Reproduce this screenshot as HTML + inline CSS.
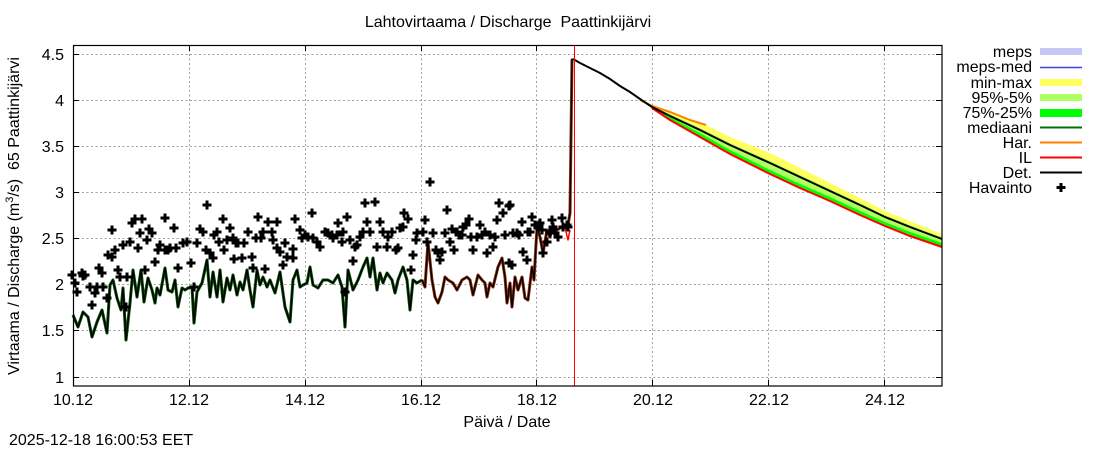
<!DOCTYPE html>
<html><head><meta charset="utf-8"><style>
html,body{margin:0;padding:0;background:#fff;}
svg{display:block;}
text{font-family:"Liberation Sans",Arial,sans-serif;font-size:16px;fill:#000;white-space:pre;}
</style></head><body>
<svg width="1100" height="450" viewBox="0 0 1100 450" xmlns="http://www.w3.org/2000/svg">
<rect width="1100" height="450" fill="#fff"/>
<text x="508" y="27" text-anchor="middle">Lahtovirtaama / Discharge &#160;Paattinkijärvi</text>
<!-- grid -->
<g stroke="#a0a0a0" stroke-width="1" stroke-dasharray="2,2.5" fill="none">
<path d="M73,54.5H942M73,100.5H942M73,146.5H942M73,192.5H942M73,238.5H942M73,284.5H942M73,330.5H942M73,377.5H942"/>
<path d="M189.5,45V386M305.5,45V386M421.5,45V386M536.5,45V386M652.5,45V386M768.5,45V386M884.5,45V386"/>
</g>
<!-- ticks -->
<g stroke="#000" stroke-width="1">
<path d="M73,54.5h6M73,100.5h6M73,146.5h6M73,192.5h6M73,238.5h6M73,284.5h6M73,330.5h6M73,377.5h6"/>
<path d="M942,54.5h-6M942,100.5h-6M942,146.5h-6M942,192.5h-6M942,238.5h-6M942,284.5h-6M942,330.5h-6M942,377.5h-6"/>
<path d="M189.5,386v-6M305.5,386v-6M421.5,386v-6M536.5,386v-6M652.5,386v-6M768.5,386v-6M884.5,386v-6"/>
<path d="M189.5,45v6M305.5,45v6M421.5,45v6M536.5,45v6M652.5,45v6M768.5,45v6M884.5,45v6"/>
</g>
<!-- forecast bands -->
<polygon fill="#ffff60" points="645,103 652,106 670,112 690,120 706,125 730,137 770,153 800,168 830,183 860,198 885,211 910,221 942,234 942,247 910,236 885,226 860,215 830,201 800,188 770,174 730,154 700,137 670,120 652,108"/>
<polygon fill="#b0ff60" points="652,106 670,114 700,128 730,143 770,161 800,175 830,189 860,203 885,215 910,225 942,237 942,246 910,235 885,225 860,214 830,200 800,187 770,173 730,153 700,136 670,119 652,108"/>
<polygon fill="#00ff00" points="652,107 670,117 700,133 730,150 770,170 800,184 830,197 860,211 885,222 910,232 942,243 942,246 910,235 885,225 860,214 830,200 800,187 770,173 730,153 700,136 670,119 652,108"/>
<polyline fill="none" stroke="#ff8000" stroke-width="2" points="640,100 652,106 670,112 690,120 706,125"/>
<polyline fill="none" stroke="#ff0000" stroke-width="2" points="652,108 670,120 700,137 730,154 770,174 800,188 830,201 860,215 885,226 910,236 942,247"/>
<polyline fill="none" stroke="#000" stroke-width="2" points="573,59 580,63 590,68 600,73 610,79 620,86 630,92 640,99 652,107 670,116 700,130 730,145 770,163 800,177 830,191 860,205 885,217 910,227 942,239"/>
<!-- historical line -->
<g fill="none" stroke-linejoin="round">
<polyline stroke="#0a4a0a" stroke-width="3" points="73,315 78,327 83,312 88,317 92,337 97,322 102,310 107,333 110,285 113,280 117,298 121,310 123,288 126,340 130,303 133,270 137,297 141,270 144,302 148,278 152,290 155,303 157,288 160,295 165,268 168,290 172,292 175,280 178,307 182,288 185,290 188,288 192,287 194,323 197,292 202,283 207,260 210,297 213,272 217,297 220,270 223,302 227,278 230,290 233,275 237,295 240,282 243,290 247,270 250,290 253,307 257,270 260,285 263,277 267,287 270,280 275,293 280,272 285,307 290,322 293,280 297,270 300,287 303,285 307,283 310,267 313,285 318,288 323,280 328,280 333,283 338,275 342,287 345,327 348,270 353,290 358,280 363,267 367,258 370,277 373,258 377,290 380,273 383,283 387,273 392,280 395,293 398,280 403,267 407,280 410,310 413,280 417,283 422,280"/>
<polyline stroke="#8a2a10" stroke-width="3" points="422,280 425,287 428,242 432,280 435,297 438,303 442,292 445,277 448,280 453,283 457,290 462,280 467,277 470,280 473,295 478,275 482,280 485,283 487,297 490,283 493,287 498,267 502,258 505,277 507,303 510,283 512,307 515,277 518,290 522,277 525,298 528,300 532,267 534,280 537,227 540,237 543,253 547,230 550,237 553,225 557,230 562,227 565,225 568,225 570,213 572,60 573,59"/>
<polyline stroke="#ff0000" stroke-width="1.5" points="565,228 568,240 570,230"/>
<polyline stroke="#000" stroke-width="1.3" points="73,315 78,327 83,312 88,317 92,337 97,322 102,310 107,333 110,285 113,280 117,298 121,310 123,288 126,340 130,303 133,270 137,297 141,270 144,302 148,278 152,290 155,303 157,288 160,295 165,268 168,290 172,292 175,280 178,307 182,288 185,290 188,288 192,287 194,323 197,292 202,283 207,260 210,297 213,272 217,297 220,270 223,302 227,278 230,290 233,275 237,295 240,282 243,290 247,270 250,290 253,307 257,270 260,285 263,277 267,287 270,280 275,293 280,272 285,307 290,322 293,280 297,270 300,287 303,285 307,283 310,267 313,285 318,288 323,280 328,280 333,283 338,275 342,287 345,327 348,270 353,290 358,280 363,267 367,258 370,277 373,258 377,290 380,273 383,283 387,273 392,280 395,293 398,280 403,267 407,280 410,310 413,280 417,283 422,280 425,287 428,242 432,280 435,297 438,303 442,292 445,277 448,280 453,283 457,290 462,280 467,277 470,280 473,295 478,275 482,280 485,283 487,297 490,283 493,287 498,267 502,258 505,277 507,303 510,283 512,307 515,277 518,290 522,277 525,298 528,300 532,267 534,280 537,227 540,237 543,253 547,230 550,237 553,225 557,230 562,227 565,225 568,225 570,213 572,60 573,59"/>
</g>
<!-- observations -->
<defs><path id="p" d="M-4.5,0H4.5M0,-4.5V4.5" stroke="#000" stroke-width="3" fill="none"/></defs>
<g>
<use href="#p" x="72" y="275"/><use href="#p" x="75" y="283"/><use href="#p" x="77" y="292"/><use href="#p" x="82" y="273"/><use href="#p" x="83" y="276"/><use href="#p" x="85" y="275"/><use href="#p" x="90" y="287"/><use href="#p" x="92" y="305"/><use href="#p" x="95" y="293"/><use href="#p" x="97" y="287"/><use href="#p" x="99" y="268"/><use href="#p" x="102" y="273"/><use href="#p" x="103" y="287"/><use href="#p" x="107" y="298"/><use href="#p" x="108" y="255"/><use href="#p" x="112" y="230"/><use href="#p" x="112" y="257"/><use href="#p" x="115" y="250"/><use href="#p" x="118" y="270"/><use href="#p" x="120" y="277"/><use href="#p" x="123" y="245"/><use href="#p" x="127" y="277"/><use href="#p" x="126" y="307"/><use href="#p" x="130" y="242"/><use href="#p" x="132" y="223"/><use href="#p" x="135" y="219"/><use href="#p" x="138" y="248"/><use href="#p" x="140" y="233"/><use href="#p" x="142" y="219"/><use href="#p" x="145" y="270"/><use href="#p" x="147" y="240"/><use href="#p" x="149" y="229"/><use href="#p" x="152" y="233"/><use href="#p" x="155" y="262"/><use href="#p" x="158" y="250"/><use href="#p" x="160" y="245"/><use href="#p" x="165" y="218"/><use href="#p" x="165" y="250"/><use href="#p" x="168" y="250"/><use href="#p" x="170" y="248"/><use href="#p" x="174" y="228"/><use href="#p" x="176" y="248"/><use href="#p" x="178" y="268"/><use href="#p" x="183" y="243"/><use href="#p" x="187" y="242"/><use href="#p" x="191" y="263"/><use href="#p" x="194" y="287"/><use href="#p" x="197" y="243"/><use href="#p" x="200" y="229"/><use href="#p" x="203" y="232"/><use href="#p" x="207" y="205"/><use href="#p" x="206" y="250"/><use href="#p" x="210" y="253"/><use href="#p" x="213" y="258"/><use href="#p" x="214" y="235"/><use href="#p" x="217" y="232"/><use href="#p" x="219" y="242"/><use href="#p" x="223" y="219"/><use href="#p" x="224" y="250"/><use href="#p" x="227" y="240"/><use href="#p" x="230" y="228"/><use href="#p" x="233" y="238"/><use href="#p" x="234" y="259"/><use href="#p" x="236" y="243"/><use href="#p" x="238" y="243"/><use href="#p" x="242" y="258"/><use href="#p" x="244" y="243"/><use href="#p" x="248" y="232"/><use href="#p" x="252" y="257"/><use href="#p" x="253" y="268"/><use href="#p" x="256" y="238"/><use href="#p" x="258" y="217"/><use href="#p" x="261" y="238"/><use href="#p" x="263" y="232"/><use href="#p" x="265" y="269"/><use href="#p" x="268" y="222"/><use href="#p" x="272" y="232"/><use href="#p" x="273" y="240"/><use href="#p" x="277" y="222"/><use href="#p" x="277" y="248"/><use href="#p" x="280" y="252"/><use href="#p" x="283" y="265"/><use href="#p" x="285" y="243"/><use href="#p" x="287" y="257"/><use href="#p" x="293" y="258"/><use href="#p" x="295" y="219"/><use href="#p" x="293" y="249"/><use href="#p" x="300" y="230"/><use href="#p" x="302" y="238"/><use href="#p" x="305" y="235"/><use href="#p" x="308" y="237"/><use href="#p" x="312" y="213"/><use href="#p" x="313" y="238"/><use href="#p" x="317" y="242"/><use href="#p" x="320" y="247"/><use href="#p" x="325" y="232"/><use href="#p" x="328" y="233"/><use href="#p" x="332" y="235"/><use href="#p" x="333" y="238"/><use href="#p" x="337" y="235"/><use href="#p" x="338" y="223"/><use href="#p" x="342" y="242"/><use href="#p" x="343" y="232"/><use href="#p" x="345" y="292"/><use href="#p" x="347" y="217"/><use href="#p" x="350" y="240"/><use href="#p" x="353" y="261"/><use href="#p" x="355" y="247"/><use href="#p" x="357" y="245"/><use href="#p" x="360" y="237"/><use href="#p" x="363" y="232"/><use href="#p" x="365" y="203"/><use href="#p" x="367" y="222"/><use href="#p" x="370" y="232"/><use href="#p" x="375" y="202"/><use href="#p" x="377" y="247"/><use href="#p" x="380" y="222"/><use href="#p" x="383" y="232"/><use href="#p" x="387" y="247"/><use href="#p" x="388" y="237"/><use href="#p" x="392" y="232"/><use href="#p" x="396" y="250"/><use href="#p" x="398" y="248"/><use href="#p" x="400" y="228"/><use href="#p" x="403" y="227"/><use href="#p" x="404" y="213"/><use href="#p" x="408" y="219"/><use href="#p" x="411" y="270"/><use href="#p" x="413" y="255"/><use href="#p" x="416" y="240"/><use href="#p" x="417" y="233"/><use href="#p" x="423" y="232"/><use href="#p" x="425" y="220"/><use href="#p" x="427" y="242"/><use href="#p" x="430" y="182"/><use href="#p" x="433" y="233"/><use href="#p" x="436" y="250"/><use href="#p" x="438" y="253"/><use href="#p" x="440" y="260"/><use href="#p" x="442" y="252"/><use href="#p" x="445" y="233"/><use href="#p" x="447" y="210"/><use href="#p" x="450" y="242"/><use href="#p" x="452" y="229"/><use href="#p" x="454" y="250"/><use href="#p" x="457" y="232"/><use href="#p" x="459" y="235"/><use href="#p" x="462" y="235"/><use href="#p" x="463" y="227"/><use href="#p" x="466" y="225"/><use href="#p" x="469" y="219"/><use href="#p" x="471" y="237"/><use href="#p" x="473" y="250"/><use href="#p" x="477" y="237"/><use href="#p" x="480" y="225"/><use href="#p" x="482" y="235"/><use href="#p" x="485" y="232"/><use href="#p" x="487" y="253"/><use href="#p" x="490" y="235"/><use href="#p" x="493" y="247"/><use href="#p" x="495" y="237"/><use href="#p" x="497" y="220"/><use href="#p" x="499" y="203"/><use href="#p" x="503" y="213"/><use href="#p" x="505" y="235"/><use href="#p" x="509" y="206"/><use href="#p" x="509" y="263"/><use href="#p" x="512" y="265"/><use href="#p" x="510" y="205"/><use href="#p" x="513" y="233"/><use href="#p" x="517" y="233"/><use href="#p" x="519" y="235"/><use href="#p" x="522" y="222"/><use href="#p" x="523" y="252"/><use href="#p" x="527" y="260"/><use href="#p" x="528" y="232"/><use href="#p" x="530" y="232"/><use href="#p" x="532" y="217"/><use href="#p" x="535" y="225"/><use href="#p" x="539" y="225"/><use href="#p" x="540" y="223"/><use href="#p" x="542" y="230"/><use href="#p" x="543" y="253"/><use href="#p" x="547" y="242"/><use href="#p" x="550" y="233"/><use href="#p" x="552" y="220"/><use href="#p" x="553" y="227"/><use href="#p" x="555" y="233"/><use href="#p" x="558" y="237"/><use href="#p" x="562" y="218"/><use href="#p" x="563" y="227"/><use href="#p" x="567" y="225"/><use href="#p" x="568" y="227"/>
</g>
<!-- now line -->
<line x1="574.5" y1="45" x2="574.5" y2="386" stroke="#ff0000" stroke-width="1"/>
<!-- frame -->
<rect x="73.5" y="45.5" width="868.5" height="340.5" fill="none" stroke="#000" stroke-width="1.2"/>
<!-- y tick labels -->
<g text-anchor="end">
<text x="64" y="60">4.5</text><text x="64" y="106">4</text><text x="64" y="152">3.5</text><text x="64" y="198">3</text><text x="64" y="244">2.5</text><text x="64" y="290">2</text><text x="64" y="336">1.5</text><text x="64" y="383">1</text>
</g>
<!-- x tick labels -->
<g text-anchor="middle">
<text x="73" y="405">10.12</text><text x="189" y="405">12.12</text><text x="305" y="405">14.12</text><text x="421" y="405">16.12</text><text x="537" y="405">18.12</text><text x="653" y="405">20.12</text><text x="769" y="405">22.12</text><text x="885" y="405">24.12</text>
</g>
<text x="507" y="427" text-anchor="middle">Päivä / Date</text>
<text transform="translate(19,216) rotate(-90)" text-anchor="middle">Virtaama / Discharge (m<tspan font-size="11" dy="-6">3</tspan><tspan dy="6">/s) &#160;65 Paattinkijärvi</tspan></text>
<text x="9" y="445">2025-12-18 16:00:53 EET</text>
<!-- legend -->
<g text-anchor="end">
<text x="1032" y="57">meps</text><text x="1032" y="72">meps-med</text><text x="1032" y="88">min-max</text><text x="1032" y="103">95%-5%</text><text x="1032" y="118">75%-25%</text><text x="1032" y="133">mediaani</text><text x="1032" y="148">Har.</text><text x="1032" y="163">IL</text><text x="1032" y="178">Det.</text><text x="1032" y="193">Havainto</text>
</g>
<rect x="1040" y="48" width="42" height="7" fill="#c8c8f8"/>
<line x1="1040" y1="67.5" x2="1082" y2="67.5" stroke="#4040e0" stroke-width="1.5"/>
<rect x="1040" y="79" width="42" height="7" fill="#ffff60"/>
<rect x="1040" y="94" width="42" height="7" fill="#b0ff60"/>
<rect x="1040" y="109" width="42" height="8" fill="#00ff00"/>
<line x1="1040" y1="127.5" x2="1082" y2="127.5" stroke="#007000" stroke-width="2"/>
<line x1="1040" y1="142.5" x2="1082" y2="142.5" stroke="#ff8000" stroke-width="2"/>
<line x1="1040" y1="157.5" x2="1082" y2="157.5" stroke="#ff0000" stroke-width="2"/>
<line x1="1040" y1="172.5" x2="1082" y2="172.5" stroke="#000" stroke-width="2"/>
<use href="#p" x="1061" y="187.5"/>
</svg>
</body></html>
